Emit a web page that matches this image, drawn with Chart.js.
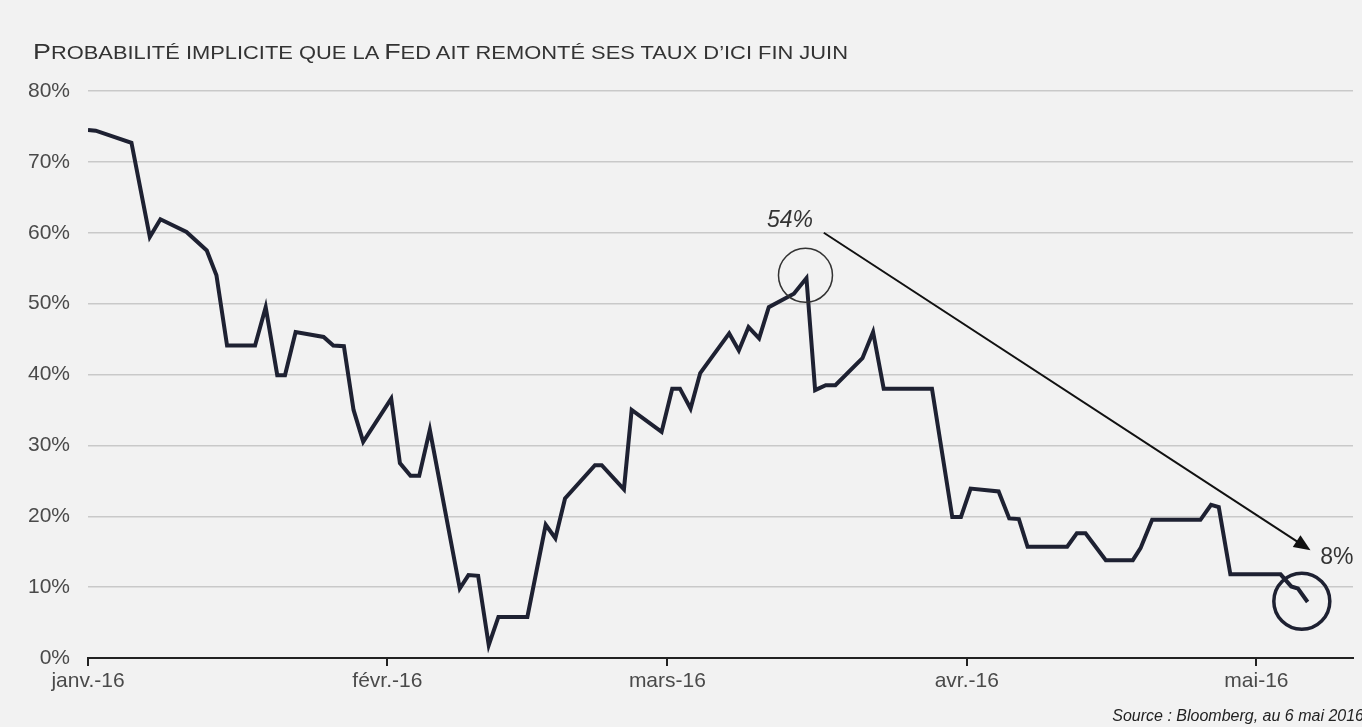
<!DOCTYPE html>
<html>
<head>
<meta charset="utf-8">
<script src="https://cdn.jsdelivr.net/npm/chart.js@4/dist/chart.umd.min.js"></script>
<style>
  html, body { margin: 0; padding: 0; background: #f2f2f2; }
  #wrap { position: relative; width: 1362px; height: 727px; overflow: hidden; }
  #title {
    position: absolute; left: 33px; top: 40px;
    font-family: 'Liberation Sans', Arial, sans-serif;
    font-size: 17.5px; text-transform: uppercase; color: #333; white-space: nowrap;
    transform-origin: 0 0;
  }
  #title .big { font-size: 21.5px; }
  #source {
    position: absolute; right: -2px; top: 707px;
    font-family: 'Liberation Sans', Arial, sans-serif;
    font-style: italic; font-size: 16px; color: #222; white-space: nowrap;
  }
  canvas { position: absolute; left: 0; top: 0; }
</style>
</head>
<body>
<div id="wrap">
  <canvas id="fedChart" width="1362" height="727"></canvas>
  <div id="title"><span class="big">P</span>robabilité implicite que la <span class="big">F</span>ed ait remonté ses taux d’ici fin juin</div>
  <div id="source">Source : Bloomberg, au 6 mai 2016</div>
</div>
<script>
/* global Chart */

// days since 1 Jan 2016
const days = [
  0, 0.8, 4.5, 6.4, 7.5, 10.2, 12.3, 13.3, 14.4, 17.3,
  18.4, 19.6, 20.4, 21.5, 24.4, 25.4, 26.5, 27.5, 28.5, 31.4,
  32.3, 33.4, 34.3, 35.4, 38.5, 39.4, 40.4, 41.5, 42.5, 45.5,
  47.4, 48.4, 49.4, 52.5, 53.2, 55.5, 56.3, 59.4, 60.5, 61.3,
  62.4, 63.4, 66.4, 67.4, 68.4, 69.5, 70.5, 73.1, 74.4, 75.3,
  76.4, 77.4, 80.2, 81.3, 82.4, 87.4, 89.5, 90.4, 91.4, 94.3,
  95.4, 96.4, 97.3, 101.4, 102.4, 103.3, 105.4, 108.2, 109.0, 110.2,
  115.2, 116.3, 117.1, 118.3, 123.5, 124.6, 125.3, 126.3,
];

// implied probability, in %
const probability = [
  74.5, 74.4, 72.7, 59.4, 61.9, 60.1, 57.5, 54.0, 44.1, 44.1,
  49.5, 39.9, 39.9, 46.0, 45.3, 44.1, 44.0, 35.0, 30.5, 36.6,
  27.5, 25.7, 25.7, 32.2, 9.8, 11.7, 11.6, 1.8, 5.8, 5.8,
  18.8, 16.9, 22.5, 27.2, 27.2, 23.8, 35.0, 31.9, 38.0, 38.0,
  35.2, 40.2, 45.8, 43.4, 46.7, 45.1, 49.5, 51.4, 53.6, 37.8,
  38.5, 38.5, 42.3, 46.0, 38.0, 38.0, 19.9, 19.9, 23.9, 23.5,
  19.7, 19.6, 15.7, 15.7, 17.6, 17.6, 13.8, 13.8, 15.5, 19.5,
  19.5, 21.6, 21.3, 11.8, 11.8, 10.1, 9.8, 7.9,
];

const monthTicks = [0, 31, 60, 91, 121];
const monthLabels = ['janv.-16', 'févr.-16', 'mars-16', 'avr.-16', 'mai-16'];
const yTicks = [0, 10, 20, 30, 40, 50, 60, 70, 80];

// annotations (day, %)
const peakMark = [74.3, 54.0];
const peakLabel = [72.7, 61.7];
const lastMark = [125.7, 8.0];
const lastLabel = [127.6, 14.1];
const arrowFrom = [76.2, 60.0];
const arrowTo = [126.6, 15.2];

const lineColor = '#1e2132';
const textColor = '#4a4a4a';
const tickFont = { family: "'Liberation Sans', Arial, sans-serif", size: 21 };

const notesPlugin = {
  id: 'notes',
  afterDatasetsDraw(chart) {
    const { ctx } = chart;
    const { x, y } = chart.scales;
    const px = (p) => [x.getPixelForValue(p[0]), y.getPixelForValue(p[1])];

    ctx.save();
    // circle around the peak
    const [cx1, cy1] = px(peakMark);
    ctx.beginPath();
    ctx.arc(cx1, cy1, 27, 0, Math.PI * 2);
    ctx.strokeStyle = '#333';
    ctx.lineWidth = 1.5;
    ctx.stroke();

    // circle around the last value
    const [cx2, cy2] = px(lastMark);
    ctx.beginPath();
    ctx.arc(cx2, cy2, 28, 0, Math.PI * 2);
    ctx.strokeStyle = lineColor;
    ctx.lineWidth = 3.5;
    ctx.stroke();

    // arrow
    const [ax, ay] = px(arrowFrom);
    const [bx, by] = px(arrowTo);
    const ang = Math.atan2(by - ay, bx - ax);
    const head = 18;
    ctx.beginPath();
    ctx.moveTo(ax, ay);
    ctx.lineTo(bx - Math.cos(ang) * head * 0.8, by - Math.sin(ang) * head * 0.8);
    ctx.strokeStyle = '#111';
    ctx.lineWidth = 2;
    ctx.stroke();
    ctx.beginPath();
    ctx.moveTo(bx, by);
    ctx.lineTo(bx - head * Math.cos(ang - 0.4), by - head * Math.sin(ang - 0.4));
    ctx.lineTo(bx - head * Math.cos(ang + 0.4), by - head * Math.sin(ang + 0.4));
    ctx.closePath();
    ctx.fillStyle = '#111';
    ctx.fill();

    // labels
    ctx.fillStyle = '#333';
    ctx.textBaseline = 'middle';
    ctx.textAlign = 'center';
    ctx.font = "italic 23px 'Liberation Sans', Arial, sans-serif";
    const [lx1, ly1] = px(peakLabel);
    ctx.fillText('54%', lx1, ly1);
    ctx.textAlign = 'left';
    ctx.font = "23px 'Liberation Sans', Arial, sans-serif";
    const [lx2, ly2] = px(lastLabel);
    ctx.fillText('8%', lx2, ly2);
    ctx.restore();
  },
};

function fitTitle() {
  const title = document.getElementById('title');
  const w = title.getBoundingClientRect().width;
  title.style.transform = `scaleX(${815 / w})`;
}

function fedChart() {
  const config = {
    type: 'line',
    data: {
      datasets: [{
        data: days.map((d, i) => ({ x: d, y: probability[i] })),
        borderColor: lineColor,
        borderWidth: 4,
        pointRadius: 0,
        tension: 0,
        fill: false,
      }],
    },
    options: {
      responsive: false,
      animation: false,
      layout: { padding: { top: 91, right: 9, left: 0, bottom: 0 } },
      plugins: {
        legend: { display: false },
        tooltip: { enabled: false },
      },
      scales: {
        x: {
          type: 'linear',
          min: 0,
          max: 131,
          afterBuildTicks: (scale) => { scale.ticks = monthTicks.map((v) => ({ value: v })); },
          afterFit: (scale) => { scale.height = 69; },
          ticks: {
            autoSkip: false,
            maxRotation: 0,
            padding: 3,
            color: textColor,
            font: tickFont,
            callback: (v) => monthLabels[monthTicks.indexOf(v)],
          },
          grid: {
            drawOnChartArea: false,
            drawTicks: true,
            tickLength: 8,
            color: '#222',
            lineWidth: 2,
          },
          border: { display: true, color: '#222', width: 2 },
        },
        y: {
          min: 0,
          max: 80,
          afterBuildTicks: (scale) => { scale.ticks = yTicks.map((v) => ({ value: v })); },
          afterFit: (scale) => { scale.width = 88; },
          ticks: {
            padding: 18,
            color: textColor,
            font: tickFont,
            callback: (v) => `${v}%`,
          },
          grid: { color: '#c9c9c9', lineWidth: 1.5, drawTicks: false },
          border: { display: false },
        },
      },
    },
    plugins: [notesPlugin],
  };

  fitTitle();
  return new Chart(document.getElementById('fedChart'), config);
}

document.addEventListener('DOMContentLoaded', fedChart);
</script>
</body>
</html>
